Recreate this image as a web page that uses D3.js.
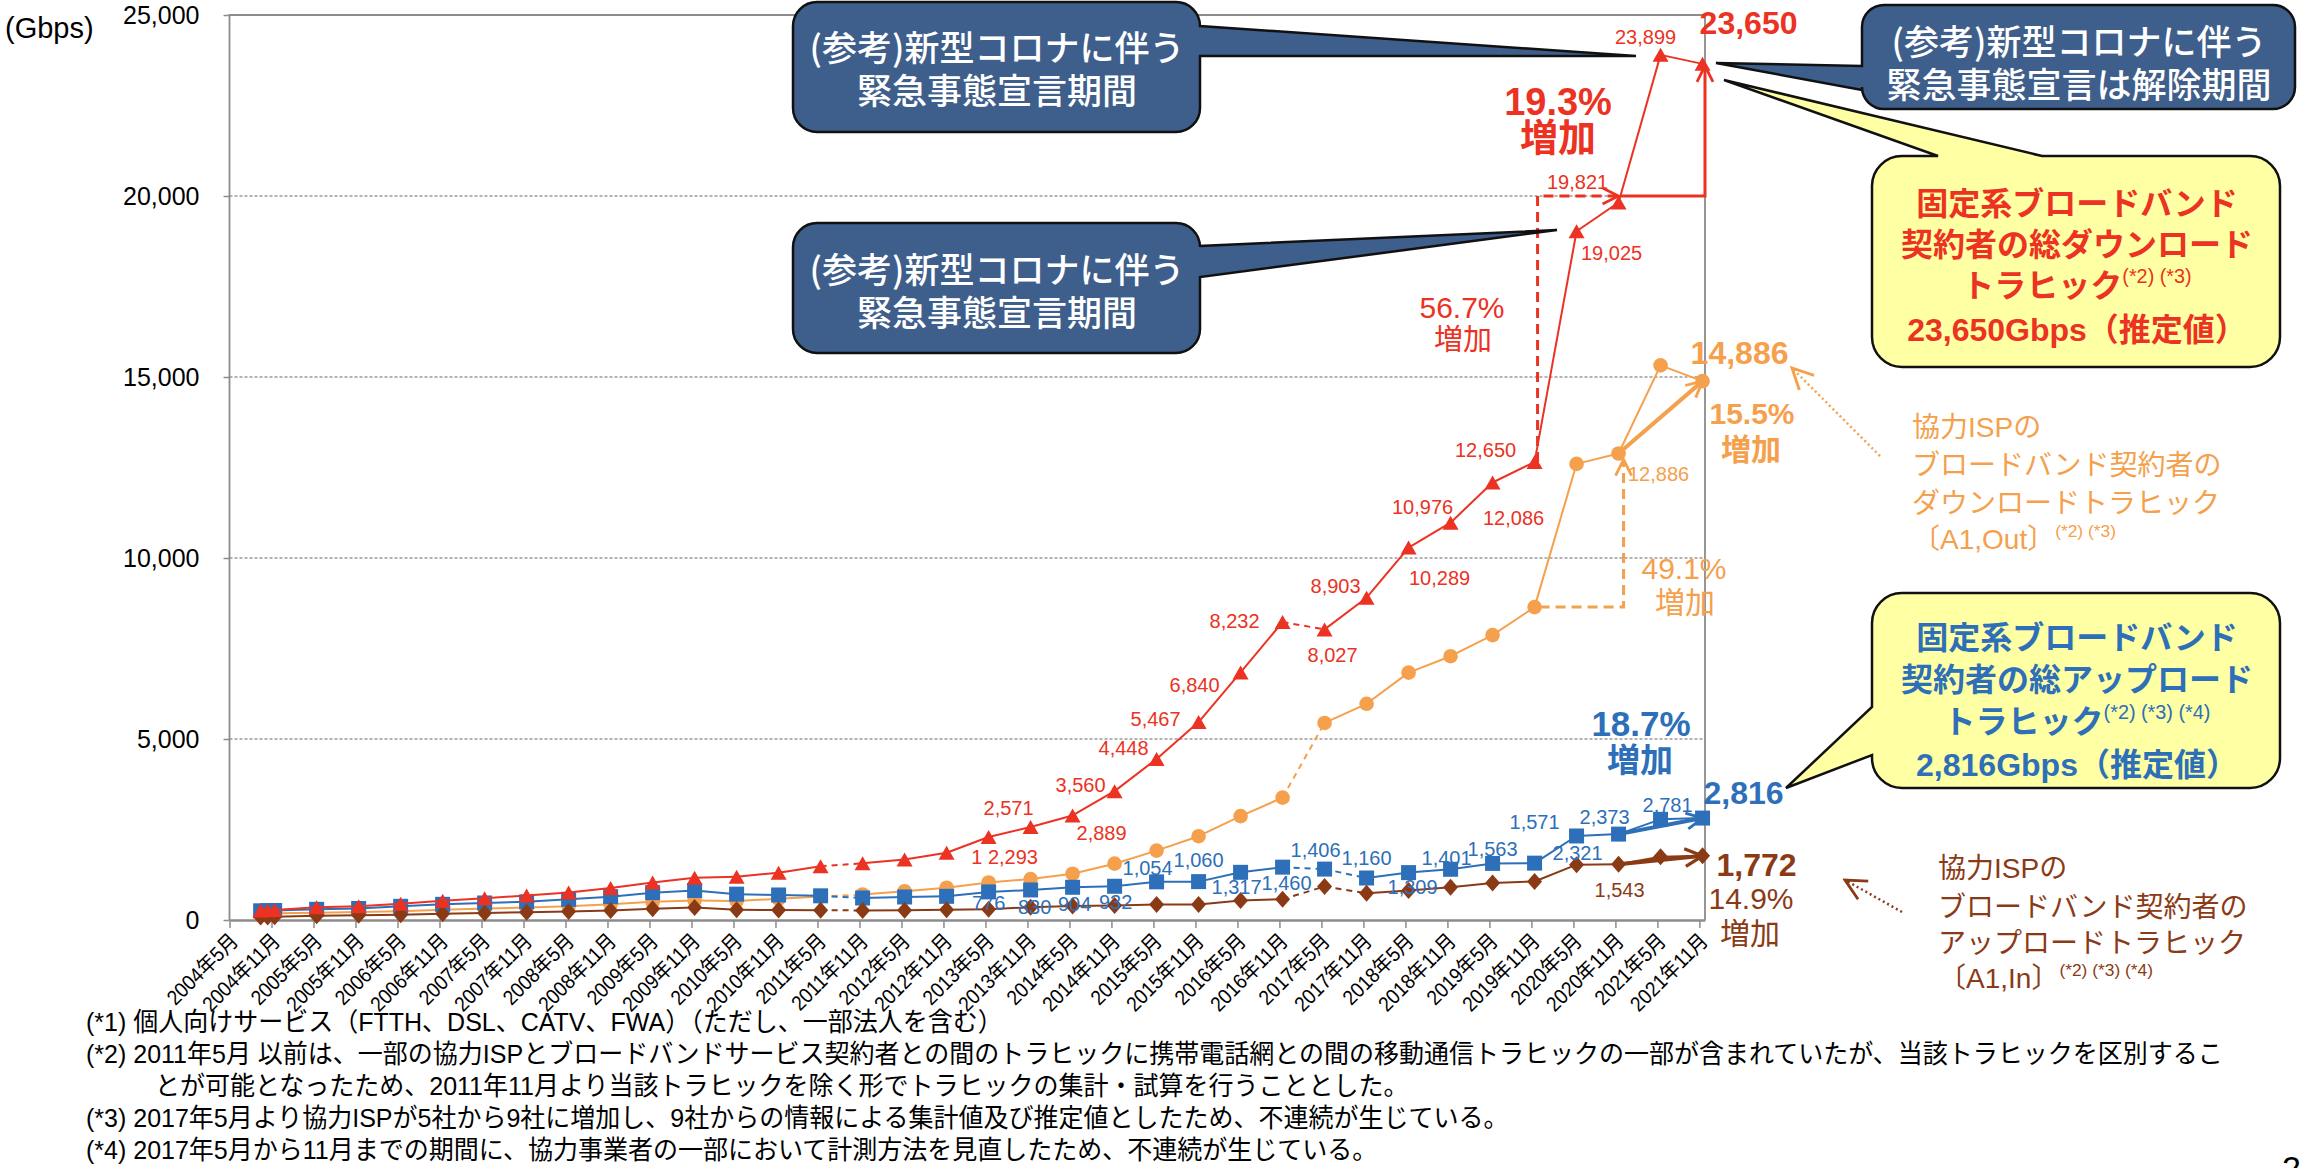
<!DOCTYPE html>
<html>
<head>
<meta charset="utf-8">
<script src="https://cdn.jsdelivr.net/npm/d3@7"></script>
<style>
html, body { margin: 0; padding: 0; background: #fff; }
svg { display: block; }
</style>
</head>
<body>
<svg id="chart" width="2306" height="1168"></svg>
<script>
// 観測時点
const periods = ["2004年9月", "2004年10月", "2004年11月",
    "2005年5月", "2005年11月", "2006年5月", "2006年11月", "2007年5月", "2007年11月",
    "2008年5月", "2008年11月", "2009年5月", "2009年11月", "2010年5月", "2010年11月",
    "2011年5月", "2011年11月", "2012年5月", "2012年11月", "2013年5月", "2013年11月",
    "2014年5月", "2014年11月", "2015年5月", "2015年11月", "2016年5月", "2016年11月",
    "2017年5月", "2017年11月", "2018年5月", "2018年11月", "2019年5月", "2019年11月",
    "2020年5月", "2020年11月", "2021年5月", "2021年11月"];

// 軸の目盛りラベル
const tickLabels = ["2004年5月", "2004年11月", "2005年5月", "2005年11月", "2006年5月", "2006年11月",
    "2007年5月", "2007年11月", "2008年5月", "2008年11月", "2009年5月", "2009年11月",
    "2010年5月", "2010年11月", "2011年5月", "2011年11月", "2012年5月", "2012年11月",
    "2013年5月", "2013年11月", "2014年5月", "2014年11月", "2015年5月", "2015年11月",
    "2016年5月", "2016年11月", "2017年5月", "2017年11月", "2018年5月", "2018年11月",
    "2019年5月", "2019年11月", "2020年5月", "2020年11月", "2021年5月", "2021年11月"];
const yTicks = [0, 5000, 10000, 15000, 20000, 25000];

// 固定系ブロードバンド契約者の総ダウンロードトラヒック (Gbps)
const totalDown = [260, 268, 276, 350, 378, 452, 530, 603, 677, 760, 885, 1037, 1166, 1198, 1308,
    1484, 1566, 1673, 1858, 2293, 2571, 2889, 3560, 4448, 5467, 6840, 8232, 8027, 8903,
    10289, 10976, 12086, 12650, 19025, 19821, 23899, 23650];
// 協力ISPのブロードバンド契約者のダウンロードトラヒック [A1,Out]
const ispDown = [170, 178, 185, 202, 221, 245, 285, 318, 345, 378, 433, 502, 539, 525, 585,
    650, 705, 795, 890, 1037, 1130, 1278, 1556, 1917, 2315, 2870, 3380, 5444, 5972,
    6833, 7287, 7870, 8643, 12600, 12886, 15320, 14886];
// 固定系ブロードバンド契約者の総アップロードトラヒック
const totalUp = [254, 258, 262, 295, 318, 378, 433, 470, 502, 571, 645, 755, 815, 714, 691,
    668, 608, 636, 654, 776, 830, 904, 932, 1054, 1060, 1317, 1460, 1406, 1160,
    1309, 1401, 1563, 1571, 2321, 2373, 2781, 2816];
// 協力ISPのブロードバンド契約者のアップロードトラヒック [A1,In]
const ispUp = [80, 86, 92, 120, 129, 148, 170, 194, 212, 235, 262, 308, 345, 285, 276,
    272, 263, 272, 285, 300, 350, 385, 400, 425, 430, 537, 574, 926, 741,
    815, 907, 1019, 1065, 1528, 1543, 1745, 1772];

// 不連続 (点 i から i+1 を破線にする)
const breaksAll = [15, 26];
const breaksUpload = [27];

const RED = "#EB3223", ORANGE = "#F5A04C", BLUE = "#2D6FB8", BROWN = "#8B3A16";
const FONT = "'Liberation Sans', Arial, 'Noto Sans CJK JP', sans-serif";
const JFONT = "'Noto Sans CJK JP', 'Liberation Sans', sans-serif";

const series = [
    { key: "ispDown", values: ispDown, color: ORANGE, shape: "circle", upload: false },
    { key: "up", values: totalUp, color: BLUE, shape: "square", upload: true },
    { key: "ispUp", values: ispUp, color: BROWN, shape: "diamond", upload: true },
    { key: "down", values: totalDown, color: RED, shape: "triangle", upload: false }
];
const byKey = {};
series.forEach(s => byKey[s.key] = s);

function monthIndex(label) {
    const m = label.match(/(\d+)年(\d+)月/);
    return (+m[1] - 2004) * 12 + (+m[2] - 5);
}

// 文字を横に詰める (元の資料の書体が細長いため)
function condense(sel, factor) {
    sel.each(function () {
        const len = this.getComputedTextLength();
        d3.select(this).attr("textLength", len * factor).attr("lengthAdjust", "spacingAndGlyphs");
    });
}

const svg = d3.select("#chart").attr("font-family", FONT);
svg.append("rect").attr("width", 2306).attr("height", 1168).attr("fill", "#fff");

const x = d3.scaleLinear().domain([0, 210.8]).range([229.5, 1705]);
const y = d3.scaleLinear().domain([0, 25000]).range([920, 15]);
const px = i => x(monthIndex(periods[i]) + 0.45);

// 目盛り線
svg.append("g").selectAll("line")
    .data(yTicks.filter(v => v > 0 && v < 25000))
    .join("line")
    .attr("x1", x.range()[0]).attr("x2", x.range()[1])
    .attr("y1", d => y(d)).attr("y2", d => y(d))
    .attr("stroke", "#9a9a9a").attr("stroke-width", 1.3).attr("stroke-dasharray", "3,2");

svg.append("path")
    .attr("d", `M${x.range()[0]},${y(0)}V${y(25000)}H${x.range()[1]}V${y(0)}`)
    .attr("fill", "none").attr("stroke", "#8c8c8c").attr("stroke-width", 1.8);

// Y軸
const yAxis = svg.append("g")
    .attr("transform", `translate(${x.range()[0]},0)`)
    .call(d3.axisLeft(y).tickValues(yTicks).tickFormat(d3.format(",")).tickSize(6).tickPadding(24));
yAxis.attr("font-size", 25).attr("font-family", FONT);
yAxis.select(".domain").remove();
yAxis.selectAll("line").attr("stroke", "#8c8c8c").attr("stroke-width", 1.5);
yAxis.selectAll("text").attr("fill", "#000");

svg.append("text").attr("x", 5).attr("y", 28).attr("dominant-baseline", "central")
    .attr("font-size", 29).text("(Gbps)");

// X軸
const xAxis = svg.append("g")
    .attr("transform", `translate(0,${y(0)})`)
    .call(d3.axisBottom(x).tickValues(tickLabels.map(monthIndex))
        .tickFormat((d, i) => tickLabels[i]).tickSize(8).tickSizeOuter(0));
xAxis.attr("font-size", 21).attr("font-family", FONT);
xAxis.select(".domain").attr("stroke", "#8c8c8c").attr("stroke-width", 2.5);
xAxis.selectAll(".tick line").attr("stroke", "#8c8c8c").attr("stroke-width", 1.5);
xAxis.selectAll(".tick text")
    .attr("y", null).attr("dy", null)
    .attr("fill", "#000")
    .attr("text-anchor", "end")
    .attr("dominant-baseline", "central")
    .attr("transform", "translate(4,17) rotate(-45)")
    .call(condense, 0.9);

// マーカー
const shapes = {
    triangle: "M0,-7L8,7L-8,7Z",
    square: "M-7.5,-7.5h15v15h-15Z",
    diamond: "M0,-8.5L7.5,0L0,8.5L-7.5,0Z",
    circle: d3.symbol(d3.symbolCircle, Math.PI * 7.3 * 7.3)()
};

const plot = svg.append("g");
series.forEach(s => {
    const g = plot.append("g");
    const line = d3.line().x(d => px(d)).y(d => y(s.values[d]));
    for (let i = 0; i < s.values.length - 1; i++) {
        const dashed = breaksAll.includes(i) || (s.upload && breaksUpload.includes(i));
        g.append("path")
            .attr("d", line([i, i + 1]))
            .attr("fill", "none")
            .attr("stroke", s.color)
            .attr("stroke-width", 2)
            .attr("stroke-dasharray", dashed ? "6,5" : null);
    }
    g.selectAll(".mk")
        .data(s.values.map((v, i) => i))
        .join("path")
        .attr("class", "mk")
        .attr("d", shapes[s.shape])
        .attr("transform", i => `translate(${px(i)},${y(s.values[i])})`)
        .attr("fill", s.color);
});

// 矢印
const defs = svg.append("defs");
function arrowHead(id, color, size, width) {
    defs.append("marker")
        .attr("id", id)
        .attr("viewBox", "0 0 10 10")
        .attr("refX", 9).attr("refY", 5)
        .attr("markerWidth", size).attr("markerHeight", size)
        .attr("markerUnits", "userSpaceOnUse")
        .attr("orient", "auto")
        .append("path")
        .attr("d", "M1,1L9,5L1,9")
        .attr("fill", "none")
        .attr("stroke", color)
        .attr("stroke-width", width);
}
arrowHead("ahRed", RED, 20, 1.4);
arrowHead("ahOrange", ORANGE, 20, 1.4);
arrowHead("ahBlue", BLUE, 20, 1.4);
arrowHead("ahBrown", BROWN, 22, 1.5);
arrowHead("ahOrangeDot", ORANGE, 26, 1.1);
arrowHead("ahBrownDot", BROWN, 26, 1.1);

const arrows = svg.append("g").attr("fill", "none");
const last = periods.length - 1;
// 赤: 2019年11月 → 2020年11月, 2020年11月 → 2021年11月
arrows.append("path")
    .attr("d", `M${px(32) + 3},${y(totalDown[32])}V${y(20000)}H${px(34)}`)
    .attr("stroke", RED).attr("stroke-width", 3).attr("stroke-dasharray", "10,6")
    .attr("marker-end", "url(#ahRed)");
arrows.append("path")
    .attr("d", `M${px(34) + 2},${y(20000)}H${x.range()[1]}V${y(totalDown[last]) + 2}`)
    .attr("stroke", RED).attr("stroke-width", 3)
    .attr("marker-end", "url(#ahRed)");
// 橙
arrows.append("path")
    .attr("d", `M${px(32) + 5},${y(ispDown[32])}H${px(34) + 5}V${y(ispDown[34]) + 6}`)
    .attr("stroke", ORANGE).attr("stroke-width", 3).attr("stroke-dasharray", "10,6")
    .attr("marker-end", "url(#ahOrange)");
[["ispDown", "ahOrange", ORANGE], ["up", "ahBlue", BLUE], ["ispUp", "ahBrown", BROWN]].forEach(([k, m, c]) => {
    const v = byKey[k].values;
    arrows.append("path")
        .attr("d", `M${px(34)},${y(v[34])}L${px(last)},${y(v[last])}`)
        .attr("stroke", c).attr("stroke-width", 4)
        .attr("marker-end", `url(#${m})`);
});
arrows.append("path").attr("d", "M1880,456L1792,368")
    .attr("stroke", ORANGE).attr("stroke-width", 2.5).attr("stroke-dasharray", "2,3")
    .attr("marker-end", "url(#ahOrangeDot)");
arrows.append("path").attr("d", "M1902,912L1845,880")
    .attr("stroke", BROWN).attr("stroke-width", 2.5).attr("stroke-dasharray", "2,3")
    .attr("marker-end", "url(#ahBrownDot)");

// データラベル
const fmt = d3.format(",");
const labelSpots = [
    ["down", 19, 16, 20, "1 "], ["down", 20, -22, -19], ["down", 21, 29, 18], ["down", 22, -34, -6],
    ["down", 23, -33, -11], ["down", 24, -43, -3], ["down", 25, -46, 13], ["down", 26, -48, -1],
    ["down", 27, 8, 26], ["down", 28, -31, -12], ["down", 29, 31, 30], ["down", 30, -28, -16],
    ["down", 31, 21, 36], ["down", 32, -49, -12], ["down", 33, 35, 22], ["down", 34, -41, -20],
    ["down", 35, -15, -18],
    ["up", 19, 0, 11], ["up", 20, 4, 17], ["up", 21, 2, 17], ["up", 22, 1, 16], ["up", 23, -9, -14],
    ["up", 24, 0, -22], ["up", 25, -4, 15], ["up", 26, 4, 16], ["up", 27, -9, -19], ["up", 28, 0, -20],
    ["up", 29, 4, 14], ["up", 30, -4, -11], ["up", 31, 0, -14], ["up", 32, 0, -41], ["up", 33, 1, 17],
    ["up", 34, -14, -17], ["up", 35, 7, -14],
    ["ispUp", 34, 1, 26], ["ispDown", 34, 40, 20]
];
svg.append("g").attr("font-size", 20).attr("text-anchor", "middle")
    .selectAll("text").data(labelSpots).join("text")
    .attr("x", d => px(d[1]) + d[2])
    .attr("y", d => y(byKey[d[0]].values[d[1]]) + d[3])
    .attr("dominant-baseline", "central")
    .attr("fill", d => byKey[d[0]].color)
    .text(d => (d[4] || "") + fmt(byKey[d[0]].values[d[1]]));

const endSpots = [["down", 46, -41], ["ispDown", 37, -28], ["up", 41, -25], ["ispUp", 54, 9]];
svg.append("g").attr("font-size", 32).attr("font-weight", "bold").attr("text-anchor", "middle")
    .selectAll("text").data(endSpots).join("text")
    .attr("x", d => px(last) + d[1])
    .attr("y", d => y(byKey[d[0]].values[last]) + d[2])
    .attr("dominant-baseline", "central")
    .attr("fill", d => byKey[d[0]].color)
    .text(d => fmt(byKey[d[0]].values[last]));

// 増加率
const growth = [
    ["56.7%", 1462, 307, 30, "normal", RED], ["増加", 1463, 340, 29, "normal", RED],
    ["19.3%", 1558, 102, 38, "bold", RED], ["増加", 1558, 138, 38, "bold", RED],
    ["49.1%", 1684, 568, 30, "normal", ORANGE], ["増加", 1685, 602, 30, "normal", ORANGE],
    ["15.5%", 1752, 413, 30, "bold", ORANGE], ["増加", 1751, 449, 30, "bold", ORANGE],
    ["18.7%", 1641, 723, 35, "bold", BLUE], ["増加", 1640, 760, 33, "bold", BLUE],
    ["14.9%", 1751, 898, 30, "normal", BROWN], ["増加", 1750, 933, 30, "normal", BROWN]
];
svg.append("g").attr("text-anchor", "middle")
    .selectAll("text").data(growth).join("text")
    .attr("x", d => d[1]).attr("y", d => d[2])
    .attr("dominant-baseline", "central")
    .attr("font-size", d => d[3]).attr("font-weight", d => d[4])
    .attr("fill", d => d[5])
    .text(d => d[0]);

// 吹き出し
function callout(bx, by, w, h, r, side, a, b, tx, ty) {
    const p = d3.path();
    p.moveTo(bx + r, by);
    if (side === "top") { p.lineTo(a, by); p.lineTo(tx, ty); p.lineTo(b, by); }
    p.lineTo(bx + w - r, by);
    p.arcTo(bx + w, by, bx + w, by + r, r);
    if (side === "right") { p.lineTo(bx + w, a); p.lineTo(tx, ty); p.lineTo(bx + w, b); }
    p.lineTo(bx + w, by + h - r);
    p.arcTo(bx + w, by + h, bx + w - r, by + h, r);
    p.lineTo(bx + r, by + h);
    p.arcTo(bx, by + h, bx, by + h - r, r);
    if (side === "left") { p.lineTo(bx, b); p.lineTo(tx, ty); p.lineTo(bx, a); }
    p.lineTo(bx, by + r);
    p.arcTo(bx, by, bx + r, by, r);
    p.closePath();
    return p.toString();
}
const BOX = "#3E5E8B", YEL = "#FFFFA3";
const boxes = svg.append("g").attr("stroke", "#111").attr("stroke-width", 2.5);
boxes.append("path").attr("d", callout(1872, 156, 408, 211, 30, "top", 1938, 2042, 1724, 80)).attr("fill", YEL);
boxes.append("path").attr("d", callout(1872, 593, 408, 195, 30, "left", 707, 755, 1786, 788)).attr("fill", YEL);
boxes.append("path").attr("d", callout(793, 2, 407, 130, 24, "right", 26, 56, 1636, 56)).attr("fill", BOX);
boxes.append("path").attr("d", callout(793, 223, 407, 130, 24, "right", 246, 277, 1557, 230)).attr("fill", BOX);
boxes.append("path").attr("d", callout(1862, 5, 433, 104, 22, "left", 66, 90, 1716, 63)).attr("fill", BOX);

const boxText = [
    ["(参考)新型コロナに伴う", 997, 45], ["緊急事態宣言期間", 997, 88],
    ["(参考)新型コロナに伴う", 997, 267], ["緊急事態宣言期間", 997, 310],
    ["(参考)新型コロナに伴う", 2079, 39], ["緊急事態宣言は解除期間", 2079, 82]
];
svg.append("g").attr("font-family", JFONT).attr("font-size", 35).attr("font-weight", 500)
    .attr("fill", "#fff").attr("text-anchor", "middle")
    .selectAll("text").data(boxText).join("text")
    .attr("x", d => d[1]).attr("y", d => d[2]).attr("dominant-baseline", "central")
    .text(d => d[0]);

function textBlock(lines, x0, anchor, size, weight, color) {
    const g = svg.append("g").attr("font-size", size).attr("font-weight", weight)
        .attr("fill", color).attr("text-anchor", anchor);
    lines.forEach(([txt, sup, ly]) => {
        const t = g.append("text").attr("x", x0).attr("y", ly).attr("dominant-baseline", "central");
        t.append("tspan").text(txt);
        if (sup) {
            t.append("tspan").attr("font-size", size * 0.62).attr("font-weight", "normal")
                .attr("dy", -size * 0.3).text(sup);
        }
    });
}
textBlock([["固定系ブロードバンド", null, 204], ["契約者の総ダウンロード", null, 245],
    ["トラヒック", "(*2) (*3)", 286], ["23,650Gbps（推定値）", null, 330]], 2077, "middle", 32, "bold", RED);
textBlock([["固定系ブロードバンド", null, 638], ["契約者の総アップロード", null, 680],
    ["トラヒック", "(*2) (*3) (*4)", 722], ["2,816Gbps（推定値）", null, 765]], 2077, "middle", 32, "bold", BLUE);
textBlock([["協力ISPの", null, 427], ["ブロードバンド契約者の", null, 465],
    ["ダウンロードトラヒック", null, 503], ["〔A1,Out〕", "(*2) (*3)", 539]], 1912, "start", 28, "normal", ORANGE);
textBlock([["協力ISPの", null, 868], ["ブロードバンド契約者の", null, 907],
    ["アップロードトラヒック", null, 943], ["〔A1,In〕", "(*2) (*3) (*4)", 978]], 1938, "start", 28, "normal", BROWN);

// 注記
const notes = [
    ["(*1) 個人向けサービス（FTTH、DSL、CATV、FWA）（ただし、一部法人を含む）", 86, 1022],
    ["(*2) 2011年5月 以前は、一部の協力ISPとブロードバンドサービス契約者との間のトラヒックに携帯電話網との間の移動通信トラヒックの一部が含まれていたが、当該トラヒックを区別するこ", 86, 1054],
    ["とが可能となったため、2011年11月より当該トラヒックを除く形でトラヒックの集計・試算を行うこととした。", 155, 1086],
    ["(*3) 2017年5月より協力ISPが5社から9社に増加し、9社からの情報による集計値及び推定値としたため、不連続が生じている。", 86, 1118],
    ["(*4) 2017年5月から11月までの期間に、協力事業者の一部において計測方法を見直したため、不連続が生じている。", 86, 1150]
];
svg.append("g").attr("font-size", 26).attr("fill", "#000")
    .selectAll("text").data(notes).join("text")
    .attr("x", d => d[1]).attr("y", d => d[2]).attr("dominant-baseline", "central")
    .text(d => d[0])
    .call(condense, 25 / 26);

svg.append("text").attr("x", 2282).attr("y", 1180).attr("font-size", 34).attr("fill", "#000").text("2");
</script>
</body>
</html>
